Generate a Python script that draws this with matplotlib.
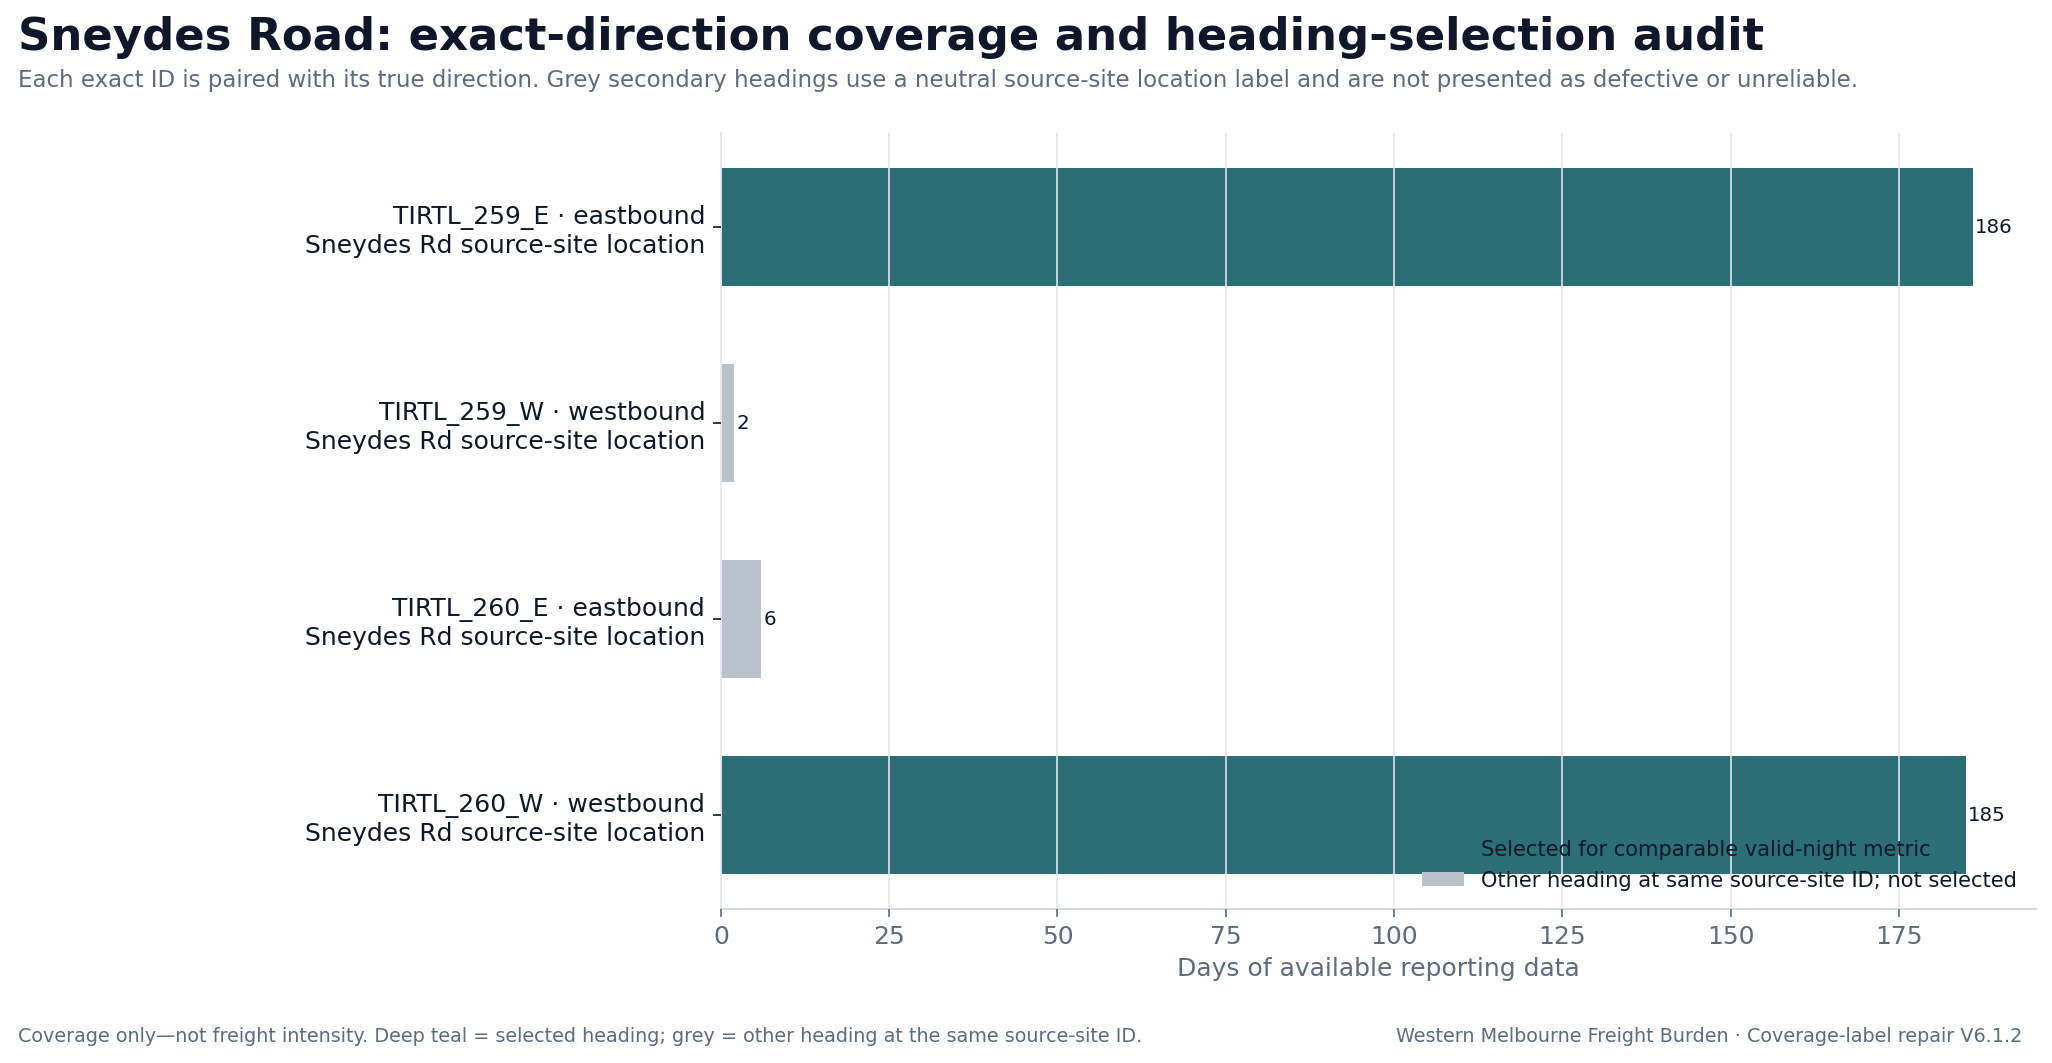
import matplotlib
matplotlib.use("Agg")
import matplotlib.pyplot as plt
from matplotlib.patches import Patch

# ── DATA ─────────────────────────────────────
labels = [
    "TIRTL_259_E · eastbound\nSneydes Rd source-site location",
    "TIRTL_259_W · westbound\nSneydes Rd source-site location",
    "TIRTL_260_E · eastbound\nSneydes Rd source-site location",
    "TIRTL_260_W · westbound\nSneydes Rd source-site location",
]
days = [186, 2, 6, 185]
selected = [True, False, False, True]

# ── STYLE ────────────────────────────────────
TEAL = "#2b6e76"
GREY = "#b8c2cc"
INK = "#0f172a"
SLATE = "#5b6b80"
GRID = "#e2e5ea"

plt.rcParams["font.family"] = ["DejaVu Sans"]

fig = plt.figure(figsize=(13.68, 7.087), dpi=150)
ax = fig.add_axes([0.3513, 0.1445, 0.6407, 0.7305])

colors = [TEAL if s else GREY for s in selected]
y = list(range(len(labels)))
bars = ax.barh(y, days, height=0.6, color=colors, zorder=2)
ax.bar_label(bars, labels=[str(d) for d in days], padding=1, fontsize=9.5, color=INK)

ax.invert_yaxis()
ax.set_yticks(y)
ax.set_yticklabels(labels, fontsize=12, color=INK)
ax.set_xlim(0, max(days) * 1.05)
ax.set_xlabel("Days of available reporting data", fontsize=12, color=SLATE)
ax.tick_params(axis="x", colors=SLATE, labelsize=12, length=4)
ax.tick_params(axis="y", colors=INK, length=4)

ax.grid(axis="x", color=GRID, linewidth=0.8, zorder=3)
ax.set_axisbelow(False)
for side in ["top", "right"]:
    ax.spines[side].set_visible(False)
ax.spines["left"].set_color(GRID)
ax.spines["bottom"].set_color("#cbd2da")

handles = [
    Patch(facecolor=TEAL, label="Selected for comparable valid-night metric"),
    Patch(facecolor=GREY, label="Other heading at same source-site ID; not selected"),
]
leg = ax.legend(handles=handles, loc="lower right", frameon=False, fontsize=10.1)
for t in leg.get_texts():
    t.set_color(INK)

fig.text(0.009, 0.965, "Sneydes Road: exact-direction coverage and heading-selection audit",
         fontsize=21.6, fontweight="bold", color=INK, va="center")
fig.text(0.009, 0.924, "Each exact ID is paired with its true direction. Grey secondary headings use a neutral "
         "source-site location label and are not presented as defective or unreliable.",
         fontsize=11, color=SLATE, va="center")
fig.text(0.009, 0.025, "Coverage only—not freight intensity. Deep teal = selected heading; grey = other "
         "heading at the same source-site ID.", fontsize=9.2, color=SLATE, va="center")
fig.text(0.9855, 0.025, "Western Melbourne Freight Burden · Coverage-label repair V6.1.2",
         fontsize=9.2, color=SLATE, va="center", ha="right")

fig.savefig("out.png", dpi=150)
